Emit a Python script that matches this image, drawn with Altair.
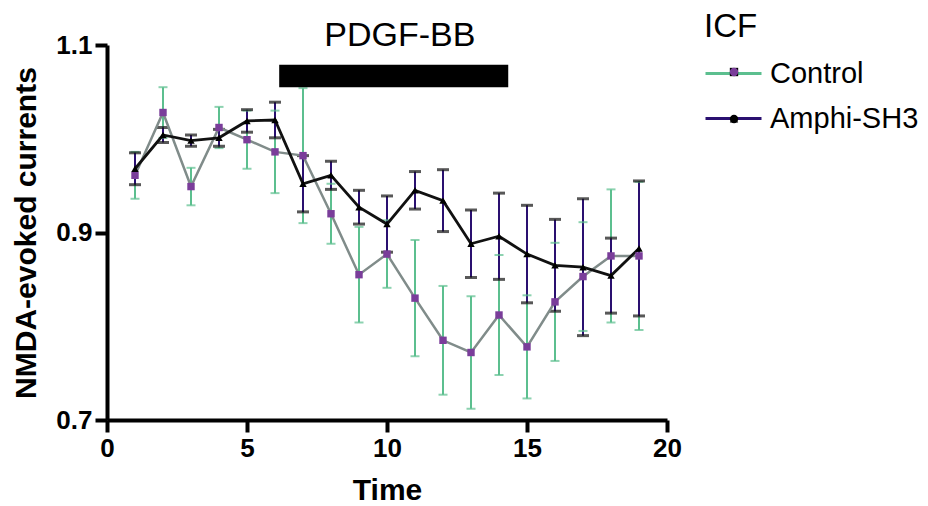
import altair as alt
import pandas as pd

# ---- data ----
time = list(range(1, 20))
groups = ["Control", "Amphi-SH3"]
control_mean = [0.961, 1.028, 0.949, 1.012, 0.999, 0.986, 0.982, 0.920, 0.855, 0.877,
                0.830, 0.785, 0.772, 0.812, 0.778, 0.826, 0.853, 0.875, 0.875]
control_sem = [0.025, 0.027, 0.020, 0.022, 0.031, 0.044, 0.072, 0.032, 0.051, 0.036,
               0.062, 0.058, 0.060, 0.064, 0.055, 0.063, 0.058, 0.071, 0.079]
amphi_mean = [0.968, 1.004, 0.998, 1.001, 1.019, 1.020, 0.952, 0.961, 0.927, 0.909,
              0.945, 0.934, 0.888, 0.896, 0.877, 0.865, 0.863, 0.854, 0.883]
amphi_sem = [0.017, 0.008, 0.006, 0.009, 0.012, 0.019, 0.030, 0.015, 0.018, 0.030,
             0.020, 0.033, 0.036, 0.046, 0.052, 0.049, 0.073, 0.040, 0.072]
x_ticks = [0, 5, 10, 15, 20]
y_ticks = [0.7, 0.9, 1.1]
bar_start = [6.15]
bar_end = [14.33]
bar_low = [1.055]
bar_high = [1.079]
bar_label = ["PDGF-BB"]
bar_label_x = [10.46]
bar_label_y = [1.099]

rows = []
for g, means, sems in [(groups[0], control_mean, control_sem), (groups[1], amphi_mean, amphi_sem)]:
    for t, m, s in zip(time, means, sems):
        rows.append({"group": g, "marker": g, "time": t, "mean": m, "lo": m - s, "hi": m + s})
df = pd.DataFrame(rows)

ann = pd.DataFrame({"x1": bar_start, "x2": bar_end, "y1": bar_low, "y2": bar_high,
                    "label": bar_label, "lx": bar_label_x, "ly": bar_label_y})

FONT = "Liberation Sans"

xscale = alt.Scale(domain=[0, 20], nice=False)
yscale = alt.Scale(domain=[0.7, 1.1], nice=False, zero=False)

X = alt.X("time:Q", scale=xscale,
          axis=alt.Axis(values=x_ticks, title="Time", titlePadding=14))
Y = alt.Y("mean:Q", scale=yscale,
          axis=alt.Axis(values=y_ticks, format=".1f", title="NMDA-evoked currents",
                        titlePadding=14))

base = alt.Chart(df)
ctrl = base.transform_filter(alt.datum.group == "Control")
amph = base.transform_filter(alt.datum.group == "Amphi-SH3")

# error bars (these carry the line part of the legend)
err = base.mark_rule(strokeWidth=2).encode(
    x=X, y=alt.Y("lo:Q", scale=yscale), y2="hi:Q",
    color=alt.Color("group:N", sort=groups,
                    scale=alt.Scale(domain=groups, range=["#5cbf8f", "#2a1070"]),
                    legend=alt.Legend(
                        title="ICF", orient="none", legendX=597, legendY=-34,
                        symbolType="stroke", symbolSize=3136, symbolStrokeWidth=3,
                        labelFontSize=29, labelFont=FONT, labelOffset=7, labelColor="#000000",
                        titleFontSize=33, titleFont=FONT, titleFontWeight="normal",
                        titleColor="#000000", titlePadding=0, rowPadding=-1)),
)
ctrl_cap_lo = ctrl.mark_tick(orient="horizontal", color="#5cbf8f", size=9, thickness=2).encode(
    x=X, y=alt.Y("lo:Q", scale=yscale))
ctrl_cap_hi = ctrl.mark_tick(orient="horizontal", color="#5cbf8f", size=9, thickness=2).encode(
    x=X, y=alt.Y("hi:Q", scale=yscale))
amph_cap_lo = amph.mark_tick(orient="horizontal", color="#111111", size=12, thickness=3).encode(
    x=X, y=alt.Y("lo:Q", scale=yscale))
amph_cap_hi = amph.mark_tick(orient="horizontal", color="#111111", size=12, thickness=3).encode(
    x=X, y=alt.Y("hi:Q", scale=yscale))

ctrl_line = ctrl.mark_line(strokeWidth=2.5, color="#808c8a").encode(x=X, y=Y)
amph_line = amph.mark_line(strokeWidth=2.8, color="#111111").encode(x=X, y=Y)

# markers (these carry the marker part of the legend, overlaid on the first)
mk_legend = alt.Legend(title=None, orient="none", legendX=613, legendY=13,
                       labelFontSize=28, labelFont=FONT, labelExpr="''", symbolOpacity=1,
                       symbolSize=70, symbolStrokeWidth=0, rowPadding=19)
pts = base.mark_point(filled=True, size=55, opacity=1).encode(
    x=X, y=Y,
    fill=alt.Fill("marker:N", sort=groups,
                  scale=alt.Scale(range=["#7a3d9a", "#000000"]),
                  legend=mk_legend, title=None),
    shape=alt.Shape("marker:N", sort=groups,
                    scale=alt.Scale(range=["square", "triangle-up"]),
                    legend=mk_legend, title=None),
)

bar = alt.Chart(ann).mark_rect(color="#000000").encode(
    x=alt.X("x1:Q", scale=xscale), x2="x2:Q",
    y=alt.Y("y1:Q", scale=yscale), y2="y2:Q")
label = alt.Chart(ann).mark_text(font=FONT, fontSize=34, color="#000000",
                                 baseline="alphabetic", align="center").encode(
    x=alt.X("lx:Q", scale=xscale), y=alt.Y("ly:Q", scale=yscale), text="label:N")

chart = alt.layer(
    err, ctrl_cap_lo, ctrl_cap_hi, amph_cap_lo, amph_cap_hi,
    ctrl_line, amph_line, pts, bar, label
).properties(
    width=560, height=375,
    autosize=alt.AutoSizeParams(type="none"),
    padding={"left": 99, "top": 37, "right": 253, "bottom": 86},
).configure_view(stroke=None).configure_axis(
    grid=False, domainColor="#000000", domainWidth=4, tickColor="#000000",
    tickWidth=4, tickSize=12, labelFont=FONT, labelFontWeight="bold",
    labelFontSize=26, labelColor="#000000", labelPadding=3, labelFlush=False,
    titleFont=FONT, titleFontWeight="bold", titleFontSize=30, titleColor="#000000",
)

chart.save("out.html", embed_options={"renderer": "svg", "actions": False})
